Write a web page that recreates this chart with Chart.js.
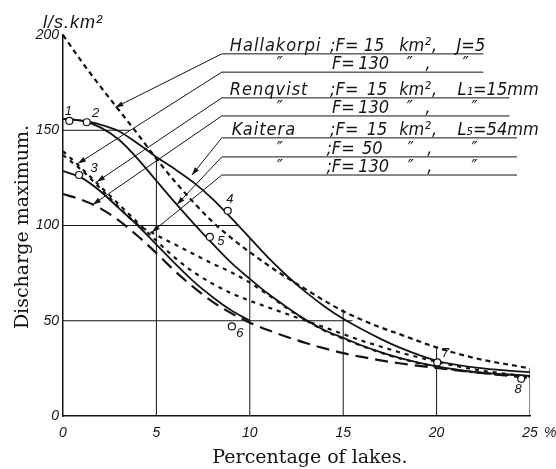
<!DOCTYPE html>
<html lang="en">
<head>
<meta charset="UTF-8">
<title>Discharge maximum vs percentage of lakes</title>
<script src="https://cdn.jsdelivr.net/npm/chart.js"></script>
<style>
  html, body { margin: 0; padding: 0; background: #fff; }
  #wrap { width: 556px; height: 469px; }
</style>
</head>
<body>
<div id="wrap"><canvas id="chart"></canvas></div>
<script>
// values (x = percentage of lakes, y = l/s.km2)
const lakePct = [0, 1, 2, 3, 4, 5, 6, 7, 8, 9, 10, 11, 12, 13, 14, 15, 16, 17, 18, 20, 22, 25];
const hallakorpi15  = [200, 186, 173, 160.5, 148, 135, 123, 112, 102, 93.5, 86, 79, 72.5, 66.5, 60.5, 55, 50.5, 46.5, 43, 36, 30.5, 25];
const hallakorpi130 = [139, 130, 120.5, 111, 101.5, 92, 83, 75.5, 69.5, 64.5, 60.5, 57, 53.5, 50, 46.5, 43, 39.5, 36.5, 33.5, 28.5, 24.5, 20.5];
const renqvist15    = [137, 129, 119.5, 109.5, 100.5, 95, 90, 85, 80, 75.5, 70, 63.5, 56.5, 50.3, 44.8, 40.6, 36.8, 33.3, 30.3, 25.8, 23, 20.8];
const renqvist130   = [116.5, 113.5, 109, 102.5, 94.5, 85.5, 76, 67.5, 60, 54, 49, 45, 41.5, 38.3, 35.5, 33, 31, 29.2, 27.7, 25.2, 23, 20];
const kaitera15     = [156, 155, 153, 149.5, 143, 136, 129.5, 122.5, 114, 104, 93.5, 83, 73.5, 65, 57.5, 51, 45.5, 40.5, 36, 29, 25.5, 23];
const kaitera50     = [156, 155, 151.5, 145, 135, 123.5, 112, 101, 90.5, 80.5, 72, 64, 57, 50.5, 45, 41, 37, 33.5, 30.5, 26, 23.2, 21];
const kaitera130    = [128.5, 125, 118, 109, 100, 90, 80, 70.5, 62.5, 55.5, 50];

// observed points 1..8
const obsX = [0.34, 1.27, 0.86, 8.82, 7.86, 9.04, 20.04, 24.53];
const obsY = [154.9, 154.2, 126.5, 107.7, 94, 47, 28.1, 19.5];
const obsLabels = ['1', '2', '3', '4', '5', '6', '7', '8'];

// partial grid lines of the drawing
const gridX = [5, 10, 15, 20, 25];
const gridXTop = [136, 93.5, 56, 36, 25];
const gridY = [50, 100, 150];
const gridYEnd = [15.5, 9.4, 3.6];

// leader lines from the key rows to the curves
const keyRowY = [190.1, 180.5, 167, 157.5, 146, 136, 126.5];
const keyStartX = 8.5;
const keyEndX = [22.5, 22.5, 23.9, 23.9, 24.3, 24.3, 24.3];
const tipX = [2.8, 0.8, 1.82, 1.6, 6.9, 6.1, 4.76];
const tipY = [162, 132.5, 123, 111, 126.5, 111, 96.5];

const xTicks = [0, 5, 10, 15, 20, 25];
const yTicks = [0, 50, 100, 150, 200];

// key text, pieces placed along each row
const keyText = [
  [[8.93, 'Hallakorpi'], [14.3, ';F='], [16.1, '15'], [18.0, 'km²'], [19.75, ','], [21.07, 'J=5']],
  [[11.44, '″'], [14.4, 'F='], [15.8, '130'], [18.4, '″'], [19.4, ','], [21.4, '″']],
  [[8.93, 'Renqvist'], [14.3, ';F='], [16.26, '15'], [18.0, 'km²'], [19.75, ','], [21.12, 'L₁=15mm']],
  [[11.44, '″'], [14.4, 'F='], [15.8, '130'], [18.4, '″'], [19.4, ','], [21.87, '″']],
  [[9.04, 'Kaitera'], [14.3, ';F='], [16.26, '15'], [18.0, 'km²'], [19.75, ','], [21.12, 'L₅=54mm']],
  [[11.44, '″'], [14.1, ';F='], [16.0, '50'], [18.45, '″'], [19.5, ','], [21.87, '″']],
  [[11.44, '″'], [14.1, ';F='], [15.8, '130'], [18.45, '″'], [19.5, ','], [21.87, '″']]
];

const ink = '#141414';
const pts = (xs, ys) => ys.map((y, i) => ({ x: xs[i], y: y }));

function curve(label, ys, dash, width) {
  return {
    label: label,
    data: pts(lakePct, ys),
    borderColor: ink,
    borderWidth: width,
    borderDash: dash,
    pointRadius: 0,
    cubicInterpolationMode: 'monotone',
    fill: false,
    clip: false,
    order: 1
  };
}

const datasets = [];

datasets.push({
  label: 'observations',
  data: pts(obsX, obsY),
  showLine: false,
  pointRadius: 3.5,
  pointStyle: 'circle',
  pointBackgroundColor: '#fff',
  pointBorderColor: ink,
  pointBorderWidth: 1.2,
  clip: false,
  order: 0
});

datasets.push(curve('Hallakorpi F=15', hallakorpi15, [5, 4], 2.2));
datasets.push(curve('Hallakorpi F=130', hallakorpi130, [4, 5], 2.2));
datasets.push(curve('Renqvist F=15', renqvist15, [4, 5], 2.2));
datasets.push(curve('Renqvist F=130', renqvist130, [13, 7], 2.2));
datasets.push(curve('Kaitera F=15', kaitera15, [], 1.8));
datasets.push(curve('Kaitera F=50', kaitera50, [], 1.8));
datasets.push(curve('Kaitera F=130', kaitera130, [], 1.8));

gridX.forEach((x, i) => {
  datasets.push({
    data: [{ x: x, y: 0 }, { x: x, y: gridXTop[i] }],
    borderColor: ink, borderWidth: 1, pointRadius: 0, tension: 0, order: 3
  });
});
gridY.forEach((y, i) => {
  datasets.push({
    data: [{ x: 0, y: y }, { x: gridYEnd[i], y: y }],
    borderColor: ink, borderWidth: 1, pointRadius: 0, tension: 0, order: 3
  });
});

keyRowY.forEach((y, i) => {
  datasets.push({
    data: [{ x: tipX[i], y: tipY[i] }, { x: keyStartX, y: y }, { x: keyEndX[i], y: y }],
    borderColor: ink, borderWidth: 1, pointRadius: 0, tension: 0, order: 2
  });
});

const labelOffsets = [[-1, -10], [9, -9], [15, -7], [2, -11], [11, 4], [8, 7], [8, -9], [-3, 11]];

const decorations = {
  id: 'decorations',
  afterDatasetsDraw(chart) {
    const ctx = chart.ctx;
    const xs = chart.scales.x, ys = chart.scales.y;
    ctx.save();
    ctx.fillStyle = ink;
    // arrow heads on the leader lines
    tipX.forEach((tx, i) => {
      const px = xs.getPixelForValue(tx), py = ys.getPixelForValue(tipY[i]);
      const sx = xs.getPixelForValue(keyStartX), sy = ys.getPixelForValue(keyRowY[i]);
      const a = Math.atan2(py - sy, px - sx);
      ctx.beginPath();
      ctx.moveTo(px, py);
      ctx.lineTo(px - 8 * Math.cos(a) + 2.6 * Math.sin(a), py - 8 * Math.sin(a) - 2.6 * Math.cos(a));
      ctx.lineTo(px - 8 * Math.cos(a) - 2.6 * Math.sin(a), py - 8 * Math.sin(a) + 2.6 * Math.cos(a));
      ctx.closePath();
      ctx.fill();
    });
    // numbers beside the observed points
    ctx.font = 'italic 13px "Liberation Sans", Arial, sans-serif';
    ctx.textAlign = 'center';
    ctx.textBaseline = 'middle';
    obsLabels.forEach((t, i) => {
      const px = xs.getPixelForValue(obsX[i]), py = ys.getPixelForValue(obsY[i]);
      ctx.fillText(t, px + labelOffsets[i][0], py + labelOffsets[i][1]);
    });
    ctx.restore();
  },
  afterDraw(chart) {
    const ctx = chart.ctx;
    const xs = chart.scales.x, ys = chart.scales.y;
    ctx.save();
    ctx.fillStyle = ink;
    // key text
    ctx.font = 'italic 18px "Liberation Sans Narrow", "DejaVu Sans Condensed", "Liberation Sans", sans-serif';
    ctx.textAlign = 'left';
    ctx.textBaseline = 'alphabetic';
    keyText.forEach((row, r) => {
      const by = ys.getPixelForValue(keyRowY[r]) - 3;
      row.forEach(([x, t]) => {
        ctx.letterSpacing = t.length > 5 && /^[A-Z][a-z]/.test(t) ? '1px' : '0px';
        ctx.fillText(t, xs.getPixelForValue(x), by);
      });
    });
    ctx.letterSpacing = '1px';
    // unit at the top of the y axis
    ctx.font = 'italic 18px "Liberation Sans", Arial, sans-serif';
    ctx.fillText('l/s.km²', 43, 28);
    ctx.letterSpacing = '0px';
    // percent sign after the last x tick
    ctx.font = 'italic 14px "Liberation Sans", Arial, sans-serif';
    ctx.textBaseline = 'middle';
    ctx.fillText('%', xs.getPixelForValue(25) + 14, 433);
    // axis titles
    ctx.font = '19px "DejaVu Serif", "Liberation Serif", serif';
    ctx.textAlign = 'center';
    ctx.textBaseline = 'alphabetic';
    ctx.fillText('Percentage of lakes.', 310, 463);
    ctx.translate(28, 227);
    ctx.rotate(-Math.PI / 2);
    ctx.fillText('Discharge maximum.', 0, 0);
    ctx.restore();
  }
};

new Chart(document.getElementById('chart'), {
  type: 'line',
  data: { datasets: datasets },
  options: {
    responsive: true,
    maintainAspectRatio: false,
    animation: false,
    devicePixelRatio: 1,
    layout: { padding: { left: 0, right: 26, top: 35, bottom: 0 } },
    plugins: { legend: { display: false }, tooltip: { enabled: false } },
    scales: {
      x: {
        type: 'linear',
        min: 0, max: 25,
        afterFit: s => { s.height = 53; },
        afterBuildTicks: s => { s.ticks = xTicks.map(v => ({ value: v })); },
        grid: { display: false, drawTicks: false },
        border: { display: true, color: ink, width: 1.5 },
        ticks: {
          color: ink, padding: 9, maxRotation: 0,
          font: { family: '"Liberation Sans", Arial, sans-serif', size: 14, style: 'italic' }
        }
      },
      y: {
        type: 'linear',
        min: 0, max: 200,
        afterFit: s => { s.width = 63; },
        afterBuildTicks: s => { s.ticks = yTicks.map(v => ({ value: v })); },
        grid: { display: false, drawTicks: false },
        border: { display: true, color: ink, width: 1.5 },
        ticks: {
          color: ink, padding: 4,
          font: { family: '"Liberation Sans", Arial, sans-serif', size: 14, style: 'italic' }
        }
      }
    }
  },
  plugins: [decorations]
});
</script>
</body>
</html>
